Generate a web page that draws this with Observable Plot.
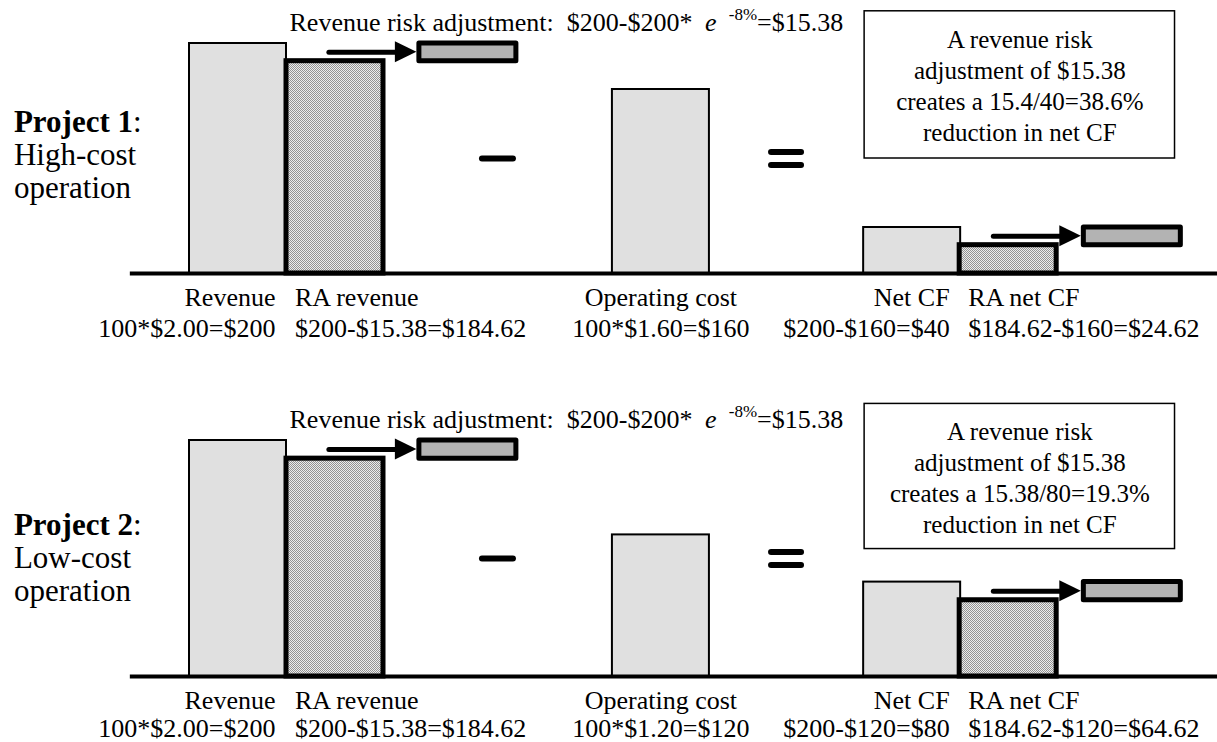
<!DOCTYPE html>
<html>
<head>
<meta charset="utf-8">
<script src="https://cdn.jsdelivr.net/npm/d3@7"></script>
<script src="https://cdn.jsdelivr.net/npm/@observablehq/plot@0.6"></script>
<style>
  html, body { margin: 0; padding: 0; background: #fff; }
  #chart { width: 1217px; }
  #chart svg { display: block; }
</style>
</head>
<body>
<!-- fine dither used for the risk-adjusted bars -->
<svg width="0" height="0" style="position:absolute">
  <defs>
    <pattern id="dither" width="2" height="2" patternUnits="userSpaceOnUse">
      <rect width="2" height="2" fill="#ececec"/>
      <rect width="1" height="1" fill="#929292"/>
      <rect x="1" y="1" width="1" height="1" fill="#929292"/>
    </pattern>
  </defs>
</svg>
<div id="chart"></div>
<script>
// ---- data ----
const categories = ["Revenue", "RA revenue", "Operating cost", "Net CF", "RA net CF"];
const project1Values = [200, 184.62, 160, 40, 24.62];
const project2Values = [200, 184.62, 120, 80, 64.62];
const project1Formulas = ["100*$2.00=$200", "$200-$15.38=$184.62", "100*$1.60=$160", "$200-$160=$40", "$184.62-$160=$24.62"];
const project2Formulas = ["100*$2.00=$200", "$200-$15.38=$184.62", "100*$1.20=$120", "$200-$120=$80", "$184.62-$120=$64.62"];
const riskAdjustment = 15.38;
const riskFormula = ["Revenue risk adjustment:  $200-$200* ", "e", " -8%", "=$15.38"];
const project1Note = ["A revenue risk", "adjustment of $15.38", "creates a 15.4/40=38.6%", "reduction in net CF"];
const project2Note = ["A revenue risk", "adjustment of $15.38", "creates a 15.38/80=19.3%", "reduction in net CF"];
const projectNames = ["Project 1", "Project 2"];
const projectKinds = [["High-cost", "operation"], ["Low-cost", "operation"]];

// ---- layout (x in bar-width units, 1 unit = 97px) ----
const UNIT = 97;
const barStart = {"Revenue": 0, "RA revenue": 1, "Operating cost": 4.36, "Net CF": 6.95, "RA net CF": 7.94};
const labelAnchor = {"Revenue": "end", "RA revenue": "start", "Operating cost": "middle", "Net CF": "end", "RA net CF": "start"};
const riskShift = {"RA revenue": 1.37, "RA net CF": 1.28};
const noteX = [6.96, 10.16];
const titleX = -1.81;
const FONT = "'Liberation Serif', 'Times New Roman', Times, serif";

function drawPanel(cfg) {
  const k = cfg.k;
  const px = v => v / k;      // pixel length -> dollars
  const ux = v => v / UNIT;   // pixel length -> bar units

  const bars = categories.map((c, i) => ({
    category: c, value: cfg.values[i], formula: cfg.formulas[i],
    x1: barStart[c], x2: barStart[c] + 1, cx: barStart[c] + 0.5, y0: 0,
    adjusted: c.startsWith("RA"), anchor: labelAnchor[c]
  }));
  const by = Object.fromEntries(bars.map(d => [d.category, d]));

  // risk adjustment slices, moved to the right of the adjusted bars
  const risk = [["Revenue", "RA revenue"], ["Net CF", "RA net CF"]].map(([a, b]) => {
    const x1 = by[b].x1 + riskShift[b];
    const top = by[a].value;
    return {x1, x2: x1 + 1, y1: top - riskAdjustment, y2: top, ym: top - riskAdjustment / 2};
  });
  const shafts = risk.map(r => ({y: r.ym, x1: r.x1 - ux(90), x2: r.x1 - ux(20)}));
  const heads = risk.flatMap((r, i) => [
    {id: i, x: r.x1 - ux(24), y1: r.ym - px(10.5), y2: r.ym + px(10.5)},
    {id: i, x: r.x1 - ux(2.5), y1: r.ym, y2: r.ym}
  ]);

  // "minus" and "equals" operators between the bars
  const opY = cfg.values[0] / 2;
  const minusX = (by["RA revenue"].x2 + by["Operating cost"].x1) / 2;
  const equalsX = (by["Operating cost"].x2 + by["Net CF"].x1) / 2;
  const ops = [
    {y: opY, x1: minusX - ux(15.5), x2: minusX + ux(15.5)},
    {y: opY + px(6.5), x1: equalsX - ux(15), x2: equalsX + ux(15)},
    {y: opY - px(6.5), x1: equalsX - ux(15), x2: equalsX + ux(15)}
  ];

  const note = [{x1: noteX[0], x2: noteX[1], y1: cfg.noteY[0], y2: cfg.noteY[1],
    cx: (noteX[0] + noteX[1]) / 2, cy: (cfg.noteY[0] + cfg.noteY[1]) / 2, text: cfg.note.join("\n")}];

  const titleAt = [{x: titleX, y: 0}];

  const labelMarks = [];
  for (const [anchor, xField, dx] of [["end", "x2", -11], ["start", "x1", 8.5], ["middle", "cx", 0]]) {
    const subset = bars.filter(d => d.anchor === anchor);
    labelMarks.push(
      Plot.text(subset, {x: xField, y: "y0", text: "category", textAnchor: anchor, dx, dy: 24, fontSize: 26, fontFamily: FONT}),
      Plot.text(subset, {x: xField, y: "y0", text: "formula", textAnchor: anchor, dx, dy: cfg.line2, fontSize: 26, fontFamily: FONT})
    );
  }

  const svg = Plot.plot({
    width: 1217,
    height: cfg.height,
    margin: 0,
    x: {type: "linear", domain: [0, 1], range: [189, 189 + UNIT], axis: null},
    y: {type: "linear", domain: [0, 100], range: [cfg.baseline, cfg.baseline - 100 * k], axis: null},
    style: {fontFamily: FONT, background: "white", color: "black"},
    marks: [
      Plot.rect(note, {x1: "x1", x2: "x2", y1: "y1", y2: "y2", fill: "white", stroke: "black", strokeWidth: 1.5}),
      Plot.text(note, {x: "cx", y: "cy", text: "text", fontSize: 25, lineHeight: 1.24, fontFamily: FONT}),
      Plot.rect(bars.filter(d => !d.adjusted), {x1: "x1", x2: "x2", y1: "y0", y2: "value", fill: "#e0e0e0", stroke: "black", strokeWidth: 2}),
      Plot.rect(bars.filter(d => d.adjusted), {x1: "x1", x2: "x2", y1: "y0", y2: "value", fill: "url(#dither)", stroke: "black", strokeWidth: 5}),
      Plot.rect(risk, {x1: "x1", x2: "x2", y1: "y1", y2: "y2", fill: "#b3b3b3", stroke: "black", strokeWidth: 5, strokeLinejoin: "round"}),
      Plot.ruleY(shafts, {y: "y", x1: "x1", x2: "x2", stroke: "black", strokeWidth: 5, strokeLinecap: "round"}),
      Plot.areaY(heads, {x: "x", y1: "y1", y2: "y2", z: "id", fill: "black"}),
      Plot.ruleY([{y: 0, x1: -0.61, x2: 10.7}], {y: "y", x1: "x1", x2: "x2", stroke: "black", strokeWidth: 4}),
      Plot.ruleY(ops, {y: "y", x1: "x1", x2: "x2", stroke: "black", strokeWidth: 6, strokeLinecap: "round"}),
      ...labelMarks,
      Plot.text([{x: by["RA revenue"].x1, y: cfg.values[0]}], {x: "x", y: "y", text: () => riskFormula.join(""), textAnchor: "start", dx: 3, dy: -21, fontSize: 26, fontFamily: FONT, ariaLabel: () => "risk formula"}),
      Plot.text(titleAt, {x: "x", y: "y", text: () => cfg.name + ":", textAnchor: "start", dy: -151, fontSize: 31, fontFamily: FONT, ariaLabel: () => "project name"}),
      Plot.text(titleAt, {x: "x", y: "y", text: () => cfg.kinds[0], textAnchor: "start", dy: -118, fontSize: 31, fontFamily: FONT}),
      Plot.text(titleAt, {x: "x", y: "y", text: () => cfg.kinds[1], textAnchor: "start", dy: -85, fontSize: 31, fontFamily: FONT})
    ]
  });

  // rich text: italic e with a raised exponent, bold project name
  d3.select(svg).selectAll('text[aria-label="risk formula"]').each(function () {
    const t = d3.select(this).text(null);
    t.append("tspan").text(riskFormula[0]);
    t.append("tspan").attr("font-style", "italic").attr("dx", 6).text(riskFormula[1]);
    t.append("tspan").attr("font-size", 17).attr("dx", 8).attr("dy", -11).text(riskFormula[2]);
    t.append("tspan").attr("dy", 11).text(riskFormula[3]);
  });
  d3.select(svg).selectAll('text[aria-label="project name"]').each(function () {
    const t = d3.select(this).text(null);
    t.append("tspan").attr("font-weight", "bold").text(cfg.name);
    t.append("tspan").text(":");
  });
  return svg;
}

const chart = document.getElementById("chart");
chart.append(drawPanel({
  values: project1Values, formulas: project1Formulas, note: project1Note,
  name: projectNames[0], kinds: projectKinds[0],
  height: 400, baseline: 273, k: 1.15, noteY: [100, 228], line2: 55
}));
chart.append(drawPanel({
  values: project2Values, formulas: project2Formulas, note: project2Note,
  name: projectNames[1], kinds: projectKinds[1],
  height: 342, baseline: 276, k: 1.18, noteY: [108, 231], line2: 52
}));
</script>
</body>
</html>
